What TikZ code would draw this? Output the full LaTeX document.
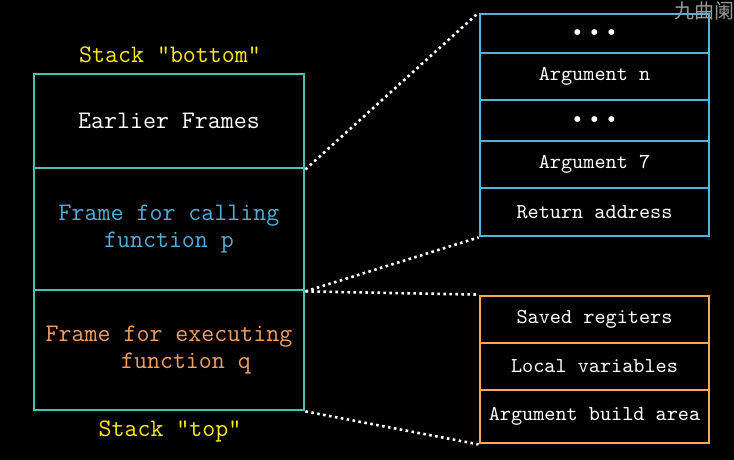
\documentclass[tikz,border=0pt]{standalone}
\usepackage{fontspec}
\newfontfamily\cjk{Noto Sans CJK SC}
\definecolor{teal1}{RGB}{80,190,175}
\definecolor{blue1}{RGB}{78,182,222}
\definecolor{blue2}{RGB}{80,175,215}
\definecolor{orange1}{RGB}{245,168,90}
\definecolor{orange2}{RGB}{240,160,96}
\definecolor{yellow1}{RGB}{250,236,20}
\tikzset{
  row/.style={draw, rectangle, inner sep=0pt, line width=1.4pt, align=center, text=white},
  big/.style={font=\ttfamily\fontsize{12.6}{13.5}\selectfont},
  small/.style={font=\ttfamily\fontsize{10.6}{12}\selectfont},
  lft/.style={row, big, draw=teal1, minimum width=135pt},
  rtop/.style={row, small, draw=blue1, minimum width=114.5pt},
  rbot/.style={row, small, draw=orange1, minimum width=114.5pt},
  dotline/.style={draw=white, line width=1.3pt, dash pattern=on 1.3pt off 1.7pt},
  caption/.style={big, text=yellow1, inner sep=0pt},
}
\newcommand{\threedots}{\makebox[8.5pt]{\textbullet}\makebox[8.5pt]{\textbullet}\makebox[8.5pt]{\textbullet}}
\begin{document}
\begin{tikzpicture}[x=0.5pt,y=-0.5pt]
\useasboundingbox[fill=black] (0,0) rectangle (734,460);
% left stack
\node[lft, minimum height=47pt] (earlier) at (169,121) {\raisebox{-0.5pt}{Earlier Frames}};
\node[lft, minimum height=61pt, text=blue2] (call) at (169,229) {Frame for calling\\function p};
\node[lft, minimum height=60pt, text=orange2] (exec) at (169,350) {Frame for executing\\\hspace*{17pt}function q};
\node[caption] (sb) at (170,55) {Stack "bottom"};
\node[caption] (st) at (170,431) {Stack "top"};
% right top
\node[rtop, minimum height=19.5pt] (r1) at (594.5,33.5) {\threedots};
\node[rtop, minimum height=23.5pt] (r2) at (594.5,76.5) {Argument n};
\node[rtop, minimum height=20.5pt] (r3) at (594.5,120.5) {\threedots};
\node[rtop, minimum height=23.5pt] (r4) at (594.5,164.5) {Argument 7};
\node[rtop, minimum height=24pt] (r5) at (594.5,212) {Return address};
% right bottom
\node[rbot, minimum height=23.5pt] (b1) at (594.5,319.5) {Saved regiters};
\node[rbot, minimum height=23.5pt] (b2) at (594.5,366.5) {Local variables};
\node[rbot, minimum height=26.5pt] (b3) at (594.5,416.5) {Argument build area};
% connectors
\draw[dotline] (earlier.south east) -- (r1.north west);
\draw[dotline] (call.south east) -- (r5.south west);
\draw[dotline] (call.south east) -- (b1.north west);
\draw[dotline] (exec.south east) -- (b3.south west);
% watermark
\node[anchor=east, inner sep=0pt, text=gray!80, font=\cjk\fontsize{10}{11}\selectfont] (wm) at (735,11) {九曲阑};
\end{tikzpicture}
\end{document}
